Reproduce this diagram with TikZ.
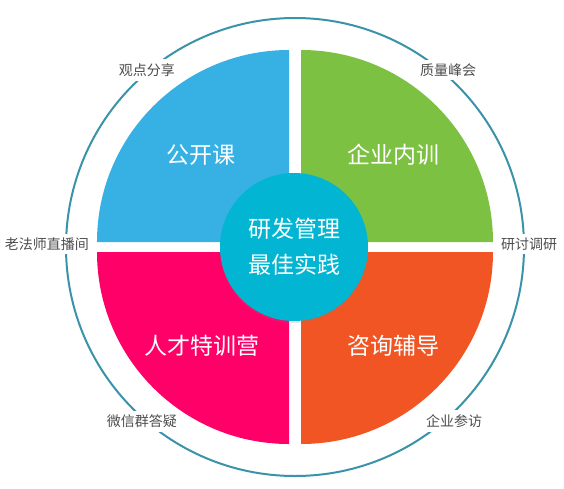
\documentclass[tikz,border=0pt]{standalone}
\usepackage{fontspec}
\setmainfont{Noto Sans CJK SC}
\usetikzlibrary{shadows}
\definecolor{ringteal}{HTML}{3A93A8}
\definecolor{skyblue}{HTML}{37B0E4}
\definecolor{leafgreen}{HTML}{7DC143}
\definecolor{hotpink}{HTML}{FE0068}
\definecolor{deeporange}{HTML}{F15524}
\definecolor{corecyan}{HTML}{02B6D3}
\definecolor{taggray}{HTML}{4D4D4D}
\begin{document}
\begin{tikzpicture}[x=1pt, y=1pt, every node/.style={font=\fontsize{14}{16}\selectfont}]
  \tikzstyle{tag}=[fill=white,text=taggray,inner sep=4pt]
  \tikzstyle{quad}=[text=white,font=\fontsize{23}{27}\selectfont]
  \tikzstyle{core}=[circle,fill=corecyan,minimum size=148,text=white,align=center,
    font=\fontsize{23}{36}\selectfont,drop shadow={shadow xshift=0pt,shadow yshift=-2pt,opacity=0.2}]
  \useasboundingbox (-295,-241) rectangle (269,247);
  \draw[ringteal,line width=2] (0,0) circle (229);
  % four quarters
  \fill[skyblue] (-6,5) -- (-198,5) arc (180:90:192) -- cycle;
  \fill[leafgreen] (6,5) -- (6,197) arc (90:0:192) -- cycle;
  \fill[hotpink] (-6,-5) -- (-6,-197) arc (270:180:192) -- cycle;
  \fill[deeporange] (6,-5) -- (198,-5) arc (0:-90:192) -- cycle;
  \node[quad] (open) at (-94,92) {公开课};
  \node[quad] (inhouse) at (98,92) {企业内训};
  \node[quad] (talent) at (-93,-99) {人才特训营};
  \node[quad] (consult) at (98,-99) {咨询辅导};
  \node[core] (center) at (-1,0) {研发管理\\最佳实践};
  % labels on the ring
  \node[tag] (share) at (-148,177) {观点分享};
  \node[tag] (summit) at (153,177) {质量峰会};
  \node[tag] (live) at (-248,3) {老法师直播间};
  \node[tag] (survey) at (234,3) {研讨调研};
  \node[tag] (wechat) at (-153,-174) {微信群答疑};
  \node[tag] (visit) at (159,-174) {企业参访};
\end{tikzpicture}
\end{document}
